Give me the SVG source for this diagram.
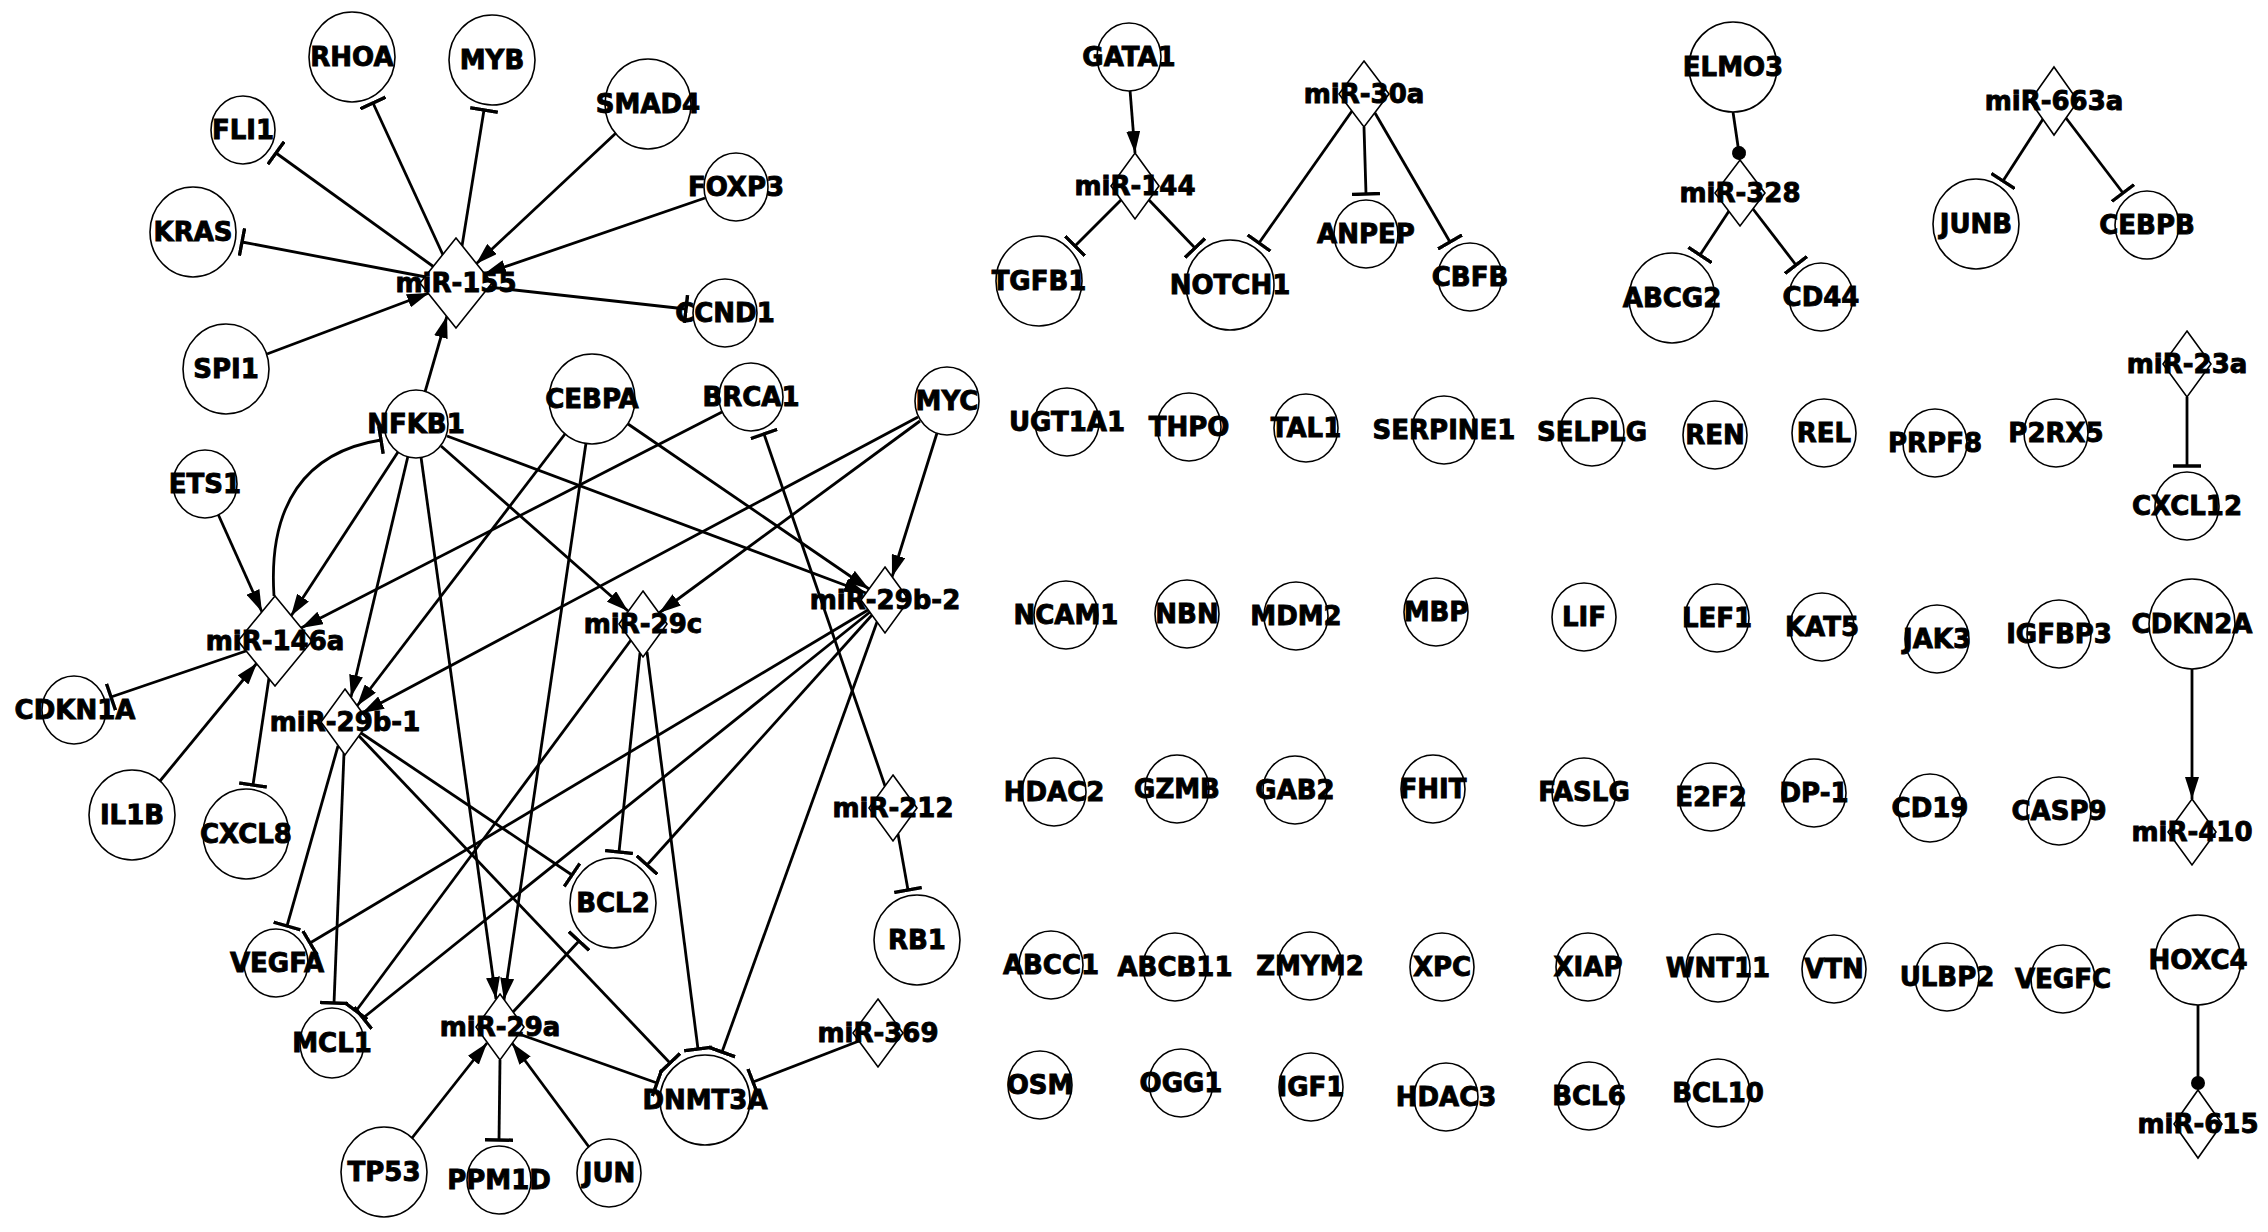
<svg xmlns="http://www.w3.org/2000/svg" width="2268" height="1232" viewBox="0 0 2268 1232">
<defs>
<style>
.n{fill:#fff;stroke:#000;stroke-width:1.6}
.t{font-family:"DejaVu Sans","Liberation Sans",sans-serif;font-weight:bold;font-size:26px;text-anchor:middle;fill:#000;stroke:#000;stroke-width:0.9}
.e{stroke:#000;stroke-width:2.8;fill:none}
.a{marker-end:url(#arrow)}
.i{marker-end:url(#tee)}
.d{marker-end:url(#dot)}
</style>
<marker id="arrow" markerUnits="userSpaceOnUse" markerWidth="22" markerHeight="14" viewBox="0 0 22 14" refX="22" refY="7" orient="auto"><path d="M0,0 L22,7 L0,14 z" fill="#000"/></marker>
<marker id="tee" markerUnits="userSpaceOnUse" markerWidth="4" markerHeight="28" viewBox="0 0 4 28" refX="2" refY="14" orient="auto"><rect x="0.25" y="0" width="3.5" height="28" fill="#000"/></marker>
<marker id="dot" markerUnits="userSpaceOnUse" markerWidth="14" markerHeight="14" viewBox="0 0 14 14" refX="7" refY="7" orient="auto"><circle cx="7" cy="7" r="7" fill="#000"/></marker>
</defs>
<rect width="2268" height="1232" fill="#fff"/>
<g id="edges">
<line class="e i" x1="443" y1="255" x2="373" y2="103"/>
<line class="e i" x1="462" y1="246" x2="484" y2="110"/>
<line class="e a" x1="616" y1="133" x2="476" y2="264"/>
<line class="e a" x1="705" y1="198" x2="484" y2="274"/>
<line class="e i" x1="434" y1="267" x2="276" y2="153"/>
<line class="e i" x1="426" y1="277" x2="242" y2="242"/>
<line class="e i" x1="488" y1="287" x2="686" y2="309"/>
<line class="e a" x1="267" y1="354" x2="429" y2="293"/>
<line class="e a" x1="425" y1="392" x2="447" y2="316"/>
<path class="e i" d="M274,596 C268,505 305,452 381,440"/>
<line class="e a" x1="398" y1="452" x2="291" y2="616"/>
<line class="e a" x1="408" y1="456" x2="351" y2="697"/>
<line class="e a" x1="421" y1="457" x2="496" y2="999"/>
<line class="e a" x1="441" y1="446" x2="628" y2="611"/>
<line class="e a" x1="447" y1="436" x2="866" y2="593"/>
<line class="e a" x1="565" y1="434" x2="357" y2="706"/>
<line class="e a" x1="586" y1="443" x2="504" y2="1000"/>
<line class="e a" x1="628" y1="424" x2="869" y2="589"/>
<line class="e a" x1="722" y1="412" x2="301" y2="628"/>
<line class="e i" x1="885" y1="786" x2="764" y2="434"/>
<line class="e a" x1="918" y1="417" x2="362" y2="713"/>
<line class="e a" x1="920" y1="421" x2="659" y2="613"/>
<line class="e a" x1="937" y1="433" x2="892" y2="577"/>
<line class="e a" x1="218" y1="514" x2="262" y2="612"/>
<line class="e a" x1="160" y1="781" x2="257" y2="663"/>
<line class="e i" x1="246" y1="651" x2="111" y2="697"/>
<line class="e i" x1="269" y1="678" x2="253" y2="785"/>
<line class="e i" x1="338" y1="746" x2="287" y2="926"/>
<line class="e i" x1="344" y1="753" x2="334" y2="1003"/>
<line class="e i" x1="361" y1="733" x2="572" y2="875"/>
<line class="e i" x1="359" y1="736" x2="670" y2="1063"/>
<line class="e i" x1="631" y1="640" x2="356" y2="1011"/>
<line class="e i" x1="640" y1="653" x2="619" y2="852"/>
<line class="e i" x1="647" y1="652" x2="698" y2="1049"/>
<line class="e i" x1="868" y1="610" x2="310" y2="943"/>
<line class="e i" x1="870" y1="612" x2="363" y2="1018"/>
<line class="e i" x1="872" y1="615" x2="647" y2="865"/>
<line class="e i" x1="877" y1="622" x2="722" y2="1052"/>
<line class="e i" x1="513" y1="1012" x2="579" y2="941"/>
<line class="e i" x1="519" y1="1034" x2="657" y2="1083"/>
<line class="e i" x1="500" y1="1060" x2="499" y2="1140"/>
<line class="e a" x1="412" y1="1138" x2="487" y2="1043"/>
<line class="e a" x1="589" y1="1147" x2="512" y2="1043"/>
<line class="e i" x1="898" y1="834" x2="908" y2="890"/>
<line class="e i" x1="859" y1="1041" x2="753" y2="1082"/>
<line class="e a" x1="1130" y1="90" x2="1135" y2="153"/>
<line class="e i" x1="1121" y1="200" x2="1075" y2="246"/>
<line class="e i" x1="1149" y1="200" x2="1195" y2="248"/>
<line class="e i" x1="1352" y1="111" x2="1259" y2="243"/>
<line class="e i" x1="1364" y1="127" x2="1366" y2="194"/>
<line class="e i" x1="1375" y1="113" x2="1450" y2="242"/>
<line class="e d" x1="1733" y1="112" x2="1739" y2="153"/>
<line class="e i" x1="1729" y1="211" x2="1700" y2="255"/>
<line class="e i" x1="1753" y1="209" x2="1796" y2="265"/>
<line class="e i" x1="2043" y1="119" x2="2003" y2="181"/>
<line class="e i" x1="2066" y1="118" x2="2123" y2="193"/>
<line class="e i" x1="2187" y1="397" x2="2187" y2="466"/>
<line class="e a" x1="2192" y1="669" x2="2192" y2="799"/>
<line class="e d" x1="2198" y1="1005" x2="2198" y2="1083"/>
</g>
<g id="nodes">
<g id="RHOA"><ellipse class="n" cx="352" cy="57" rx="43" ry="45"/><text class="t" x="352" y="66">RHOA</text></g>
<g id="MYB"><ellipse class="n" cx="492" cy="60" rx="43" ry="45"/><text class="t" x="492" y="69">MYB</text></g>
<g id="SMAD4"><ellipse class="n" cx="648" cy="104" rx="43" ry="45"/><text class="t" x="648" y="113">SMAD4</text></g>
<g id="FLI1"><ellipse class="n" cx="243" cy="130" rx="32" ry="34"/><text class="t" x="243" y="139">FLI1</text></g>
<g id="FOXP3"><ellipse class="n" cx="736" cy="187" rx="32" ry="34"/><text class="t" x="736" y="196">FOXP3</text></g>
<g id="KRAS"><ellipse class="n" cx="193" cy="232" rx="43" ry="45"/><text class="t" x="193" y="241">KRAS</text></g>
<g id="miR-155"><path class="n" d="M456,238 L492,283 L456,328 L420,283 z"/><text class="t" x="456" y="292">miR-155</text></g>
<g id="CCND1"><ellipse class="n" cx="725" cy="313" rx="32" ry="34"/><text class="t" x="725" y="322">CCND1</text></g>
<g id="SPI1"><ellipse class="n" cx="226" cy="369" rx="43" ry="45"/><text class="t" x="226" y="378">SPI1</text></g>
<g id="NFKB1"><ellipse class="n" cx="416" cy="424" rx="32" ry="34"/><text class="t" x="416" y="433">NFKB1</text></g>
<g id="CEBPA"><ellipse class="n" cx="592" cy="399" rx="43" ry="45"/><text class="t" x="592" y="408">CEBPA</text></g>
<g id="BRCA1"><ellipse class="n" cx="751" cy="397" rx="32" ry="34"/><text class="t" x="751" y="406">BRCA1</text></g>
<g id="MYC"><ellipse class="n" cx="947" cy="401" rx="32" ry="34"/><text class="t" x="947" y="410">MYC</text></g>
<g id="ETS1"><ellipse class="n" cx="205" cy="484" rx="32" ry="34"/><text class="t" x="205" y="493">ETS1</text></g>
<g id="miR-146a"><path class="n" d="M275,596 L312,641 L275,686 L238,641 z"/><text class="t" x="275" y="650">miR-146a</text></g>
<g id="miR-29c"><path class="n" d="M643,591 L667,624 L643,657 L619,624 z"/><text class="t" x="643" y="633">miR-29c</text></g>
<g id="miR-29b-2"><path class="n" d="M885,567 L909,600 L885,633 L861,600 z"/><text class="t" x="885" y="609">miR-29b-2</text></g>
<g id="miR-29b-1"><path class="n" d="M345,689 L369,722 L345,755 L321,722 z"/><text class="t" x="345" y="731">miR-29b-1</text></g>
<g id="CDKN1A"><ellipse class="n" cx="74" cy="710" rx="32" ry="34"/><text class="t" x="75" y="719">CDKN1A</text></g>
<g id="IL1B"><ellipse class="n" cx="132" cy="815" rx="43" ry="45"/><text class="t" x="132" y="824">IL1B</text></g>
<g id="CXCL8"><ellipse class="n" cx="246" cy="834" rx="43" ry="45"/><text class="t" x="246" y="843">CXCL8</text></g>
<g id="miR-212"><path class="n" d="M893,775 L917,808 L893,841 L869,808 z"/><text class="t" x="893" y="817">miR-212</text></g>
<g id="BCL2"><ellipse class="n" cx="613" cy="903" rx="43" ry="45"/><text class="t" x="613" y="912">BCL2</text></g>
<g id="RB1"><ellipse class="n" cx="917" cy="940" rx="43" ry="45"/><text class="t" x="917" y="949">RB1</text></g>
<g id="VEGFA"><ellipse class="n" cx="276" cy="963" rx="32" ry="34"/><text class="t" x="277" y="972">VEGFA</text></g>
<g id="MCL1"><ellipse class="n" cx="332" cy="1043" rx="32" ry="35"/><text class="t" x="332" y="1052">MCL1</text></g>
<g id="miR-29a"><path class="n" d="M500,994 L524,1027 L500,1060 L476,1027 z"/><text class="t" x="500" y="1036">miR-29a</text></g>
<g id="DNMT3A"><ellipse class="n" cx="705" cy="1100" rx="45" ry="45"/><text class="t" x="705" y="1109">DNMT3A</text></g>
<g id="miR-369"><path class="n" d="M878,999 L903,1033 L878,1067 L853,1033 z"/><text class="t" x="878" y="1042">miR-369</text></g>
<g id="TP53"><ellipse class="n" cx="384" cy="1172" rx="43" ry="45"/><text class="t" x="384" y="1181">TP53</text></g>
<g id="PPM1D"><ellipse class="n" cx="499" cy="1180" rx="32" ry="34"/><text class="t" x="499" y="1189">PPM1D</text></g>
<g id="JUN"><ellipse class="n" cx="609" cy="1173" rx="32" ry="34"/><text class="t" x="609" y="1182">JUN</text></g>
<g id="GATA1"><ellipse class="n" cx="1129" cy="57" rx="32" ry="34"/><text class="t" x="1129" y="66">GATA1</text></g>
<g id="miR-144"><path class="n" d="M1135,153 L1159,186 L1135,219 L1111,186 z"/><text class="t" x="1135" y="195">miR-144</text></g>
<g id="miR-30a"><path class="n" d="M1364,61 L1389,94 L1364,127 L1339,94 z"/><text class="t" x="1364" y="103">miR-30a</text></g>
<g id="TGFB1"><ellipse class="n" cx="1039" cy="281" rx="43" ry="45"/><text class="t" x="1039" y="290">TGFB1</text></g>
<g id="NOTCH1"><ellipse class="n" cx="1230" cy="285" rx="44" ry="45"/><text class="t" x="1230" y="294">NOTCH1</text></g>
<g id="ANPEP"><ellipse class="n" cx="1366" cy="234" rx="32" ry="34"/><text class="t" x="1366" y="243">ANPEP</text></g>
<g id="CBFB"><ellipse class="n" cx="1470" cy="277" rx="32" ry="34"/><text class="t" x="1470" y="286">CBFB</text></g>
<g id="ELMO3"><ellipse class="n" cx="1733" cy="67" rx="44" ry="45"/><text class="t" x="1733" y="76">ELMO3</text></g>
<g id="miR-328"><path class="n" d="M1740,160 L1765,193 L1740,226 L1715,193 z"/><text class="t" x="1740" y="202">miR-328</text></g>
<g id="ABCG2"><ellipse class="n" cx="1672" cy="298" rx="43" ry="45"/><text class="t" x="1672" y="307">ABCG2</text></g>
<g id="CD44"><ellipse class="n" cx="1821" cy="297" rx="32" ry="34"/><text class="t" x="1821" y="306">CD44</text></g>
<g id="miR-663a"><path class="n" d="M2054,67 L2078,101 L2054,135 L2030,101 z"/><text class="t" x="2054" y="110">miR-663a</text></g>
<g id="JUNB"><ellipse class="n" cx="1976" cy="224" rx="43" ry="45"/><text class="t" x="1976" y="233">JUNB</text></g>
<g id="CEBPB"><ellipse class="n" cx="2147" cy="225" rx="32" ry="34"/><text class="t" x="2147" y="234">CEBPB</text></g>
<g id="miR-23a"><path class="n" d="M2187,331 L2211,364 L2187,397 L2163,364 z"/><text class="t" x="2187" y="373">miR-23a</text></g>
<g id="CXCL12"><ellipse class="n" cx="2187" cy="506" rx="32" ry="34"/><text class="t" x="2187" y="515">CXCL12</text></g>
<g id="UGT1A1"><ellipse class="n" cx="1067" cy="422" rx="32" ry="34"/><text class="t" x="1067" y="431">UGT1A1</text></g>
<g id="THPO"><ellipse class="n" cx="1189" cy="427" rx="32" ry="34"/><text class="t" x="1189" y="436">THPO</text></g>
<g id="TAL1"><ellipse class="n" cx="1306" cy="428" rx="32" ry="34"/><text class="t" x="1306" y="437">TAL1</text></g>
<g id="SERPINE1"><ellipse class="n" cx="1444" cy="430" rx="32" ry="34"/><text class="t" x="1444" y="439">SERPINE1</text></g>
<g id="SELPLG"><ellipse class="n" cx="1592" cy="432" rx="32" ry="34"/><text class="t" x="1592" y="441">SELPLG</text></g>
<g id="REN"><ellipse class="n" cx="1715" cy="435" rx="32" ry="34"/><text class="t" x="1715" y="444">REN</text></g>
<g id="REL"><ellipse class="n" cx="1824" cy="433" rx="32" ry="34"/><text class="t" x="1824" y="442">REL</text></g>
<g id="PRPF8"><ellipse class="n" cx="1935" cy="443" rx="32" ry="34"/><text class="t" x="1935" y="452">PRPF8</text></g>
<g id="P2RX5"><ellipse class="n" cx="2056" cy="433" rx="32" ry="34"/><text class="t" x="2056" y="442">P2RX5</text></g>
<g id="NCAM1"><ellipse class="n" cx="1066" cy="615" rx="32" ry="34"/><text class="t" x="1066" y="624">NCAM1</text></g>
<g id="NBN"><ellipse class="n" cx="1187" cy="614" rx="32" ry="34"/><text class="t" x="1187" y="623">NBN</text></g>
<g id="MDM2"><ellipse class="n" cx="1296" cy="616" rx="32" ry="34"/><text class="t" x="1296" y="625">MDM2</text></g>
<g id="MBP"><ellipse class="n" cx="1436" cy="612" rx="32" ry="34"/><text class="t" x="1436" y="621">MBP</text></g>
<g id="LIF"><ellipse class="n" cx="1584" cy="617" rx="32" ry="34"/><text class="t" x="1584" y="626">LIF</text></g>
<g id="LEF1"><ellipse class="n" cx="1717" cy="618" rx="32" ry="34"/><text class="t" x="1717" y="627">LEF1</text></g>
<g id="KAT5"><ellipse class="n" cx="1822" cy="627" rx="32" ry="34"/><text class="t" x="1822" y="636">KAT5</text></g>
<g id="JAK3"><ellipse class="n" cx="1937" cy="639" rx="32" ry="34"/><text class="t" x="1937" y="648">JAK3</text></g>
<g id="IGFBP3"><ellipse class="n" cx="2059" cy="634" rx="32" ry="34"/><text class="t" x="2059" y="643">IGFBP3</text></g>
<g id="CDKN2A"><ellipse class="n" cx="2192" cy="624" rx="43" ry="45"/><text class="t" x="2192" y="633">CDKN2A</text></g>
<g id="HDAC2"><ellipse class="n" cx="1054" cy="792" rx="32" ry="34"/><text class="t" x="1054" y="801">HDAC2</text></g>
<g id="GZMB"><ellipse class="n" cx="1177" cy="789" rx="32" ry="34"/><text class="t" x="1177" y="798">GZMB</text></g>
<g id="GAB2"><ellipse class="n" cx="1295" cy="790" rx="32" ry="34"/><text class="t" x="1295" y="799">GAB2</text></g>
<g id="FHIT"><ellipse class="n" cx="1433" cy="789" rx="32" ry="34"/><text class="t" x="1433" y="798">FHIT</text></g>
<g id="FASLG"><ellipse class="n" cx="1584" cy="792" rx="32" ry="34"/><text class="t" x="1584" y="801">FASLG</text></g>
<g id="E2F2"><ellipse class="n" cx="1711" cy="797" rx="32" ry="34"/><text class="t" x="1711" y="806">E2F2</text></g>
<g id="DP-1"><ellipse class="n" cx="1814" cy="793" rx="32" ry="34"/><text class="t" x="1814" y="802">DP-1</text></g>
<g id="CD19"><ellipse class="n" cx="1930" cy="808" rx="32" ry="34"/><text class="t" x="1930" y="817">CD19</text></g>
<g id="CASP9"><ellipse class="n" cx="2059" cy="811" rx="32" ry="34"/><text class="t" x="2059" y="820">CASP9</text></g>
<g id="miR-410"><path class="n" d="M2192,799 L2216,832 L2192,865 L2168,832 z"/><text class="t" x="2192" y="841">miR-410</text></g>
<g id="ABCC1"><ellipse class="n" cx="1051" cy="965" rx="32" ry="34"/><text class="t" x="1051" y="974">ABCC1</text></g>
<g id="ABCB11"><ellipse class="n" cx="1175" cy="967" rx="32" ry="34"/><text class="t" x="1175" y="976">ABCB11</text></g>
<g id="ZMYM2"><ellipse class="n" cx="1310" cy="966" rx="32" ry="34"/><text class="t" x="1310" y="975">ZMYM2</text></g>
<g id="XPC"><ellipse class="n" cx="1442" cy="967" rx="32" ry="34"/><text class="t" x="1442" y="976">XPC</text></g>
<g id="XIAP"><ellipse class="n" cx="1588" cy="967" rx="32" ry="34"/><text class="t" x="1588" y="976">XIAP</text></g>
<g id="WNT11"><ellipse class="n" cx="1718" cy="968" rx="32" ry="34"/><text class="t" x="1718" y="977">WNT11</text></g>
<g id="VTN"><ellipse class="n" cx="1834" cy="969" rx="32" ry="34"/><text class="t" x="1834" y="978">VTN</text></g>
<g id="ULBP2"><ellipse class="n" cx="1947" cy="977" rx="32" ry="34"/><text class="t" x="1947" y="986">ULBP2</text></g>
<g id="VEGFC"><ellipse class="n" cx="2063" cy="979" rx="32" ry="34"/><text class="t" x="2063" y="988">VEGFC</text></g>
<g id="HOXC4"><ellipse class="n" cx="2198" cy="960" rx="43" ry="45"/><text class="t" x="2198" y="969">HOXC4</text></g>
<g id="miR-615"><path class="n" d="M2198,1090 L2222,1124 L2198,1158 L2174,1124 z"/><text class="t" x="2198" y="1133">miR-615</text></g>
<g id="OSM"><ellipse class="n" cx="1040" cy="1085" rx="32" ry="34"/><text class="t" x="1040" y="1094">OSM</text></g>
<g id="OGG1"><ellipse class="n" cx="1181" cy="1083" rx="32" ry="34"/><text class="t" x="1181" y="1092">OGG1</text></g>
<g id="IGF1"><ellipse class="n" cx="1311" cy="1087" rx="32" ry="34"/><text class="t" x="1311" y="1096">IGF1</text></g>
<g id="HDAC3"><ellipse class="n" cx="1446" cy="1097" rx="32" ry="34"/><text class="t" x="1446" y="1106">HDAC3</text></g>
<g id="BCL6"><ellipse class="n" cx="1589" cy="1096" rx="32" ry="34"/><text class="t" x="1589" y="1105">BCL6</text></g>
<g id="BCL10"><ellipse class="n" cx="1718" cy="1093" rx="32" ry="34"/><text class="t" x="1718" y="1102">BCL10</text></g>
</g>
</svg>
